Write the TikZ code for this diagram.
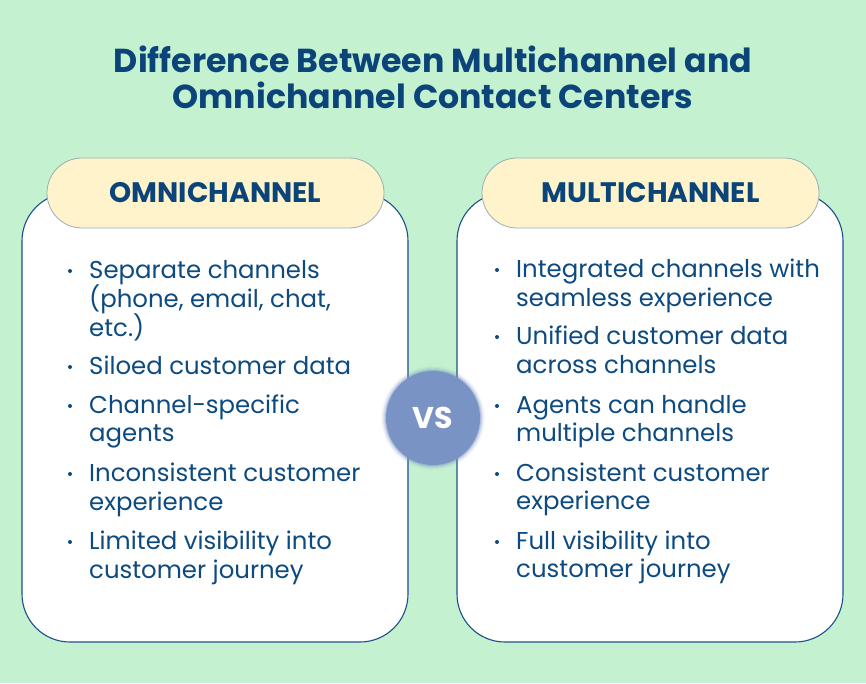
\documentclass[tikz,border=0pt]{standalone}
\usepackage{fontspec}
\setmainfont{Poppins}
\definecolor{bgc}{HTML}{C4F1CF}
\definecolor{txt}{HTML}{0D4A80}
\definecolor{ttl}{HTML}{0B4479}
\definecolor{cardb}{HTML}{1D4F8A}
\definecolor{pillf}{HTML}{FEF3CA}
\definecolor{pillb}{HTML}{9AAFB3}
\definecolor{vsc}{HTML}{7A93C5}
\begin{document}
\begin{tikzpicture}[x=1pt,y=-1pt,
  card/.style={draw=cardb,line width=1.1pt,fill=white,rounded corners=48pt},
  pill/.style={draw=pillb,line width=0.8pt,fill=pillf,rounded corners=35pt},
  item/.style={anchor=base west,inner sep=0pt,text=txt,font=\fontsize{24.4}{28}\selectfont},
  dot/.style={circle,fill=txt,inner sep=0pt,minimum size=4pt},
  head/.style={text=ttl,font=\bfseries\fontsize{28.2}{30}\selectfont,inner sep=0pt},
  ttlstyle/.style={text=ttl,font=\bfseries\fontsize{33.2}{36}\selectfont,align=center,inner sep=0pt,anchor=base}]
\fill[bgc] (0,0) rectangle (866,683);
\useasboundingbox (0,0) rectangle (866,683);
% title
\node[ttlstyle] (t1) at (433,72) {Difference Between Multichannel and};
\node[ttlstyle] (t2) at (433,108) {Omnichannel Contact Centers};
% cards
\draw[card] (22,193) rectangle (408,642);
\draw[card] (457,193) rectangle (843,642);
\draw[pill] (47,158) rectangle (384,228);
\draw[pill] (482,158) rectangle (819,228);
\node[head,anchor=base] (h1) at (215.5,202) {OMNICHANNEL};
\node[head,anchor=base] (h2) at (650.5,202) {MULTICHANNEL};
% left items
\foreach \y/\t in {278/Separate channels,307/{(phone, email, chat,},336/etc.),374/Siloed customer data,413/Channel-specific,441/agents,481/Inconsistent customer,510/experience,549/Limited visibility into,578/customer journey}
  \node[item] at (89,\y) {\t};
\foreach \y in {278,374,413,481,549}
  \node[dot] at (70,\y-7) {};
% right items
\foreach \y/\t in {277/Integrated channels with,306/seamless experience,344/Unified customer data,373/across channels,413/Agents can handle,441/multiple channels,481/Consistent customer,509/experience,549/Full visibility into,577/customer journey}
  \node[item] at (516,\y) {\t};
\foreach \y in {277,344,413,481,549}
  \node[dot] at (497,\y-7) {};
% VS
\foreach \r/\o in {52/0.05,51/0.08,50/0.12,49/0.2,48/0.35}
  \fill[vsc,opacity=\o] (433,418) circle (\r);
\fill[vsc] (433,418) circle (47);
\node[text=white,font=\bfseries\fontsize{30}{32}\selectfont,inner sep=0pt] (vs) at (433,418) {VS};
\end{tikzpicture}
\end{document}
